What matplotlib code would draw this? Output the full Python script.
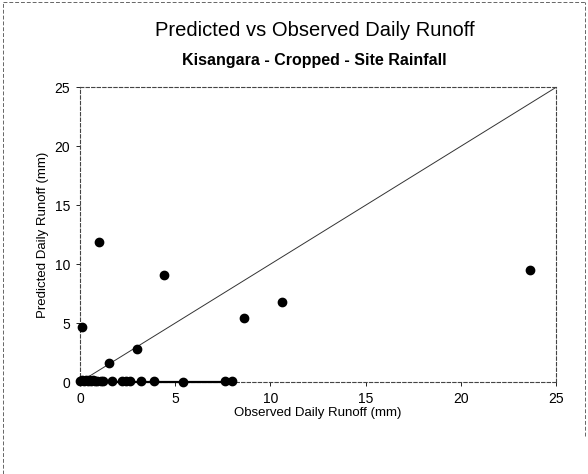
import matplotlib
matplotlib.use("Agg")
import matplotlib.pyplot as plt
from matplotlib.lines import Line2D

plt.rcParams["font.family"] = ["Liberation Sans", "DejaVu Sans"]

# observed vs predicted daily runoff (mm), events with noticeable runoff
observed = [0.1, 1.0, 4.4, 8.6, 10.6, 3.0, 1.5, 23.6]
predicted = [4.7, 11.9, 9.1, 5.4, 6.8, 2.8, 1.6, 9.5]

# events where predicted runoff is ~0
obs_zero = [0.0, 0.1, 0.2, 0.3, 0.4, 0.5, 0.6, 0.7, 0.8, 0.9, 1.1, 1.2,
            1.7, 2.2, 2.4, 2.6, 3.2, 3.9, 5.4, 7.6, 8.0]
pred_zero = [0.1, 0.2, 0.1, 0.2, 0.1, 0.2, 0.1, 0.2, 0.1, 0.1, 0.1, 0.1,
             0.1, 0.1, 0.1, 0.1, 0.1, 0.1, 0.0, 0.1, 0.1]
axis_ticks = [0, 5, 10, 15, 20, 25]

fig = plt.figure(figsize=(5.88, 4.74), dpi=100)
ax = fig.add_axes([0.136, 0.194, 0.81, 0.622])

# 1:1 line
ax.plot([0, 25], [0, 25], color="#333333", linewidth=0.7, zorder=2)
ax.scatter(observed, predicted, s=36, color="black", zorder=3, clip_on=False)
ax.plot(obs_zero, [0] * len(obs_zero), color="black", linewidth=1.6, zorder=3, clip_on=False)
ax.scatter(obs_zero, pred_zero, s=36, color="black", zorder=3, clip_on=False)

ax.set_xlim(0, 25)
ax.set_ylim(0, 25)
ax.set_xticks(axis_ticks)
ax.set_yticks(axis_ticks)
ax.tick_params(axis="both", direction="out", length=3, width=0.6, labelsize=10, pad=4)

for side in ["left", "top", "right", "bottom"]:
    ax.spines[side].set_linestyle((0, (3, 2)))
    ax.spines[side].set_linewidth(0.8)
    ax.spines[side].set_color("#444444")

ax.set_xlabel("Observed Daily Runoff (mm)", fontsize=9.5, labelpad=1)
ax.set_ylabel("Predicted Daily Runoff (mm)", fontsize=9.5, labelpad=4)

fig.text(0.535, 0.935, "Predicted vs Observed Daily Runoff", ha="center", va="center", fontsize=14.5)
fig.text(0.535, 0.873, "Kisangara - Cropped - Site Rainfall", ha="center", va="center",
         fontsize=11.5, fontweight="bold")

# dashed outer frame
for xs, ys in [([0.005, 0.005], [0.0, 0.995]), ([0.005, 0.995], [0.995, 0.995]),
               ([0.995, 0.995], [0.08, 0.995])]:
    fig.add_artist(Line2D(xs, ys, transform=fig.transFigure, color="#666666",
                          linewidth=0.7, linestyle=(0, (4, 2))))

fig.savefig("out.png", dpi=100)
